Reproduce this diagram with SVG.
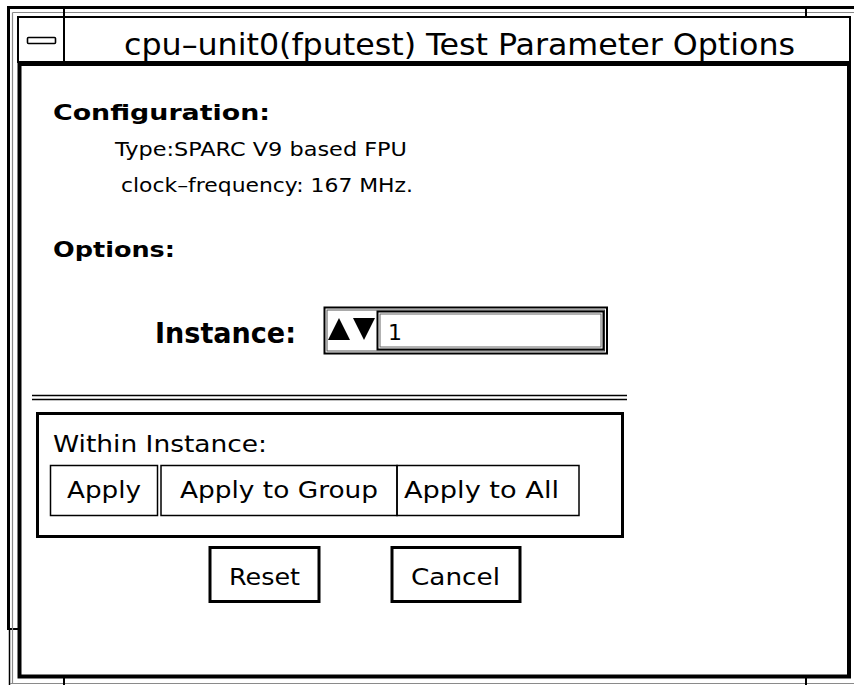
<svg xmlns="http://www.w3.org/2000/svg" width="854" height="685" viewBox="0 0 854 685">
<style>
.blk{fill:none;stroke:#000}
.gray{fill:none;stroke:#8a8a8a;stroke-width:1.2}
text{font-family:"DejaVu Sans","Liberation Sans",sans-serif;fill:#000}
.title{font-family:"DejaVu Sans Condensed","DejaVu Sans",sans-serif;font-size:31px}
.hdr{font-size:21px;font-weight:bold}
.body{font-size:19.5px}
.btn{font-size:23px}
</style>
<rect width="854" height="685" fill="#fff"/>
<g id="window-frame">
<line class="blk" stroke-width="3" x1="7" y1="7.5" x2="854" y2="7.5"/>
<line class="blk" stroke-width="3" x1="8.5" y1="6" x2="8.5" y2="630"/>
<line class="blk" stroke-width="1.5" x1="9.5" y1="630" x2="9.5" y2="685"/>
<line class="blk" stroke-width="2" x1="8" y1="629" x2="18" y2="629"/>
<line class="gray" x1="12.5" y1="12.5" x2="854" y2="12.5"/>
<line class="gray" x1="12.5" y1="12.5" x2="12.5" y2="683"/>
<line class="gray" x1="10" y1="683.5" x2="854" y2="683.5"/>
<line class="blk" stroke-width="2" x1="64" y1="8" x2="64" y2="17"/>
<line class="blk" stroke-width="2" x1="806" y1="8" x2="806" y2="17"/>
<line class="blk" stroke-width="2" x1="64" y1="677" x2="64" y2="685"/>
<line class="blk" stroke-width="2" x1="806" y1="677" x2="806" y2="685"/>
</g>
<g id="title-bar">
<rect x="18" y="17" width="832" height="45" fill="#fff" stroke="#000" stroke-width="2"/>
<line class="blk" stroke-width="2" x1="64" y1="17" x2="64" y2="62"/>
<rect x="27.5" y="37.5" width="28" height="6" rx="1" fill="#fff" stroke="#000" stroke-width="1.6"/>
<text class="title" x="124" y="55" textLength="671" lengthAdjust="spacingAndGlyphs">cpu–unit0(fputest) Test Parameter Options</text>
</g>
<g id="body">
<rect x="19.5" y="64" width="829.5" height="612.5" fill="none" stroke="#000" stroke-width="4"/>
</g>
<g id="configuration">
<text class="hdr" x="53" y="120" textLength="217" lengthAdjust="spacingAndGlyphs">Configuration:</text>
<text class="body" x="115" y="156" textLength="292" lengthAdjust="spacingAndGlyphs">Type:SPARC V9 based FPU</text>
<text class="body" x="121" y="192" textLength="292" lengthAdjust="spacingAndGlyphs">clock–frequency: 167 MHz.</text>
</g>
<g id="options">
<text class="hdr" x="53" y="257" textLength="122" lengthAdjust="spacingAndGlyphs">Options:</text>
</g>
<g id="instance">
<text x="155" y="343" font-size="29" font-weight="bold" textLength="141" lengthAdjust="spacingAndGlyphs">Instance:</text>
<rect x="324.5" y="307.5" width="282.5" height="46" fill="#fff" stroke="#000" stroke-width="2"/>
<rect x="327" y="310" width="277.5" height="41" fill="none" stroke="#555" stroke-width="1"/>
<polygon points="328,340 339,318 350,340" fill="#000"/>
<polygon points="353,318 375,318 364,340" fill="#000"/>
<rect x="377.5" y="311.5" width="226" height="38" fill="#fff" stroke="#000" stroke-width="2"/>
<rect x="380" y="314" width="221" height="33" fill="none" stroke="#666" stroke-width="1"/>
<text x="388" y="340" font-size="22">1</text>
</g>
<g id="separator">
<line x1="32" y1="395.5" x2="627" y2="395.5" stroke="#000" stroke-width="1.6"/>
<line x1="32" y1="399.5" x2="627" y2="399.5" stroke="#000" stroke-width="1.6"/>
</g>
<g id="within-instance">
<rect x="37.5" y="413.5" width="585" height="123" fill="none" stroke="#000" stroke-width="3"/>
<text class="btn" x="53" y="452" textLength="214" lengthAdjust="spacingAndGlyphs">Within Instance:</text>
</g>
<g id="btn-apply">
<rect class="blk" stroke-width="1.5" x="50.5" y="465.5" width="107" height="50"/>
<text class="btn" x="67" y="498" textLength="74" lengthAdjust="spacingAndGlyphs">Apply</text>
</g>
<g id="btn-apply-group">
<rect class="blk" stroke-width="1.5" x="161" y="465.5" width="236" height="50"/>
<text class="btn" x="180" y="498" textLength="198" lengthAdjust="spacingAndGlyphs">Apply to Group</text>
</g>
<g id="btn-apply-all">
<rect class="blk" stroke-width="1.5" x="397" y="465.5" width="182" height="50"/>
<text class="btn" x="404" y="498" textLength="155" lengthAdjust="spacingAndGlyphs">Apply to All</text>
</g>
<g id="btn-reset">
<rect x="210" y="547.5" width="109" height="54" fill="none" stroke="#000" stroke-width="3"/>
<text class="btn" x="229" y="585" textLength="71" lengthAdjust="spacingAndGlyphs">Reset</text>
</g>
<g id="btn-cancel">
<rect x="392" y="547.5" width="128" height="54" fill="none" stroke="#000" stroke-width="3"/>
<text class="btn" x="411" y="585" textLength="89" lengthAdjust="spacingAndGlyphs">Cancel</text>
</g>
<g id="connectors"/>
</svg>
